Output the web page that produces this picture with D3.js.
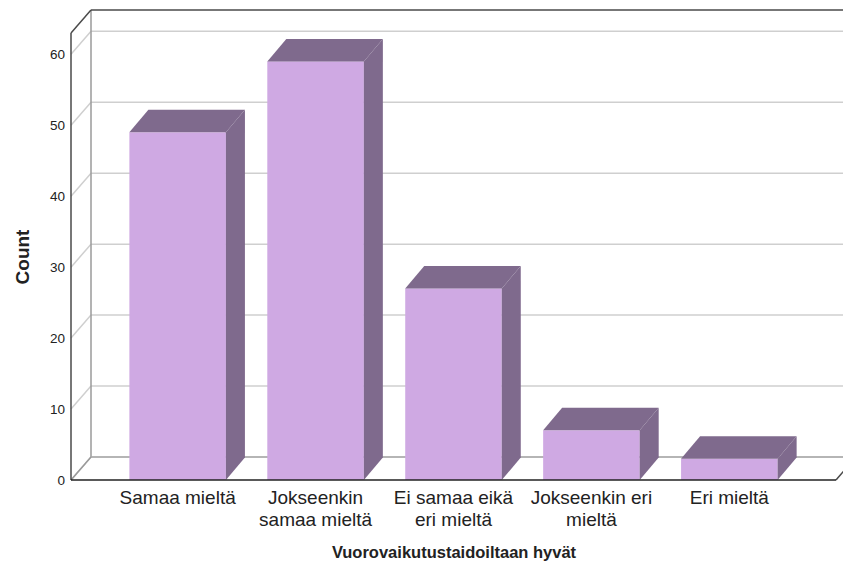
<!DOCTYPE html>
<html>
<head>
<meta charset="utf-8">
<script src="https://cdn.jsdelivr.net/npm/d3@7/dist/d3.min.js"></script>
<style>
  html, body { margin: 0; padding: 0; background: #fff; }
  svg { display: block; }
  text { font-family: Arial, "Liberation Sans", sans-serif; fill: #222; }
</style>
</head>
<body>
<svg id="chart" width="843" height="571"></svg>
<script>
// Response categories and counts
const categories = [
  ["Samaa mieltä"],
  ["Jokseenkin", "samaa mieltä"],
  ["Ei samaa eikä", "eri mieltä"],
  ["Jokseenkin eri", "mieltä"],
  ["Eri mieltä"]
];
const counts = [49, 59, 27, 7, 3];
const yTicks = [0, 10, 20, 30, 40, 50, 60];
const yMax = 63;
const xTitle = "Vuorovaikutustaidoiltaan hyvät";
const yTitle = "Count";

const W = 843, H = 571;
const svg = d3.select("#chart");

// front plane of the 3D box
const frontLeft = 71, frontBottom = 480, frontTop = 33, frontRight = 836;
// depth offset from the front plane to the back wall
const depthX = 20, depthY = -23;
// depth of each bar
const barDX = 19, barDY = -22.5;

const y = d3.scaleLinear().domain([0, yMax]).range([frontBottom, frontTop]);
const x = d3.scaleBand()
  .domain(d3.range(categories.length))
  .range([88, 819])
  .paddingInner(0.3)
  .paddingOuter(0.3);

const faceColor = "#cfa9e3";
const shadeColor = "#7f6a8d";
const gridColor = "#cfcfcf";
const axisColor = "#4a4a4a";

const g = svg.append("g");

// back wall gridlines
g.selectAll("line.grid").data(yTicks).join("line")
  .attr("x1", frontLeft + depthX).attr("x2", W)
  .attr("y1", d => y(d) + depthY).attr("y2", d => y(d) + depthY)
  .attr("stroke", gridColor).attr("stroke-width", 1.5);

// diagonal tick connectors on the side wall
g.selectAll("line.tick").data(yTicks).join("line")
  .attr("x1", frontLeft).attr("x2", frontLeft + depthX)
  .attr("y1", d => y(d)).attr("y2", d => y(d) + depthY)
  .attr("stroke", gridColor).attr("stroke-width", 1.5);

// back wall left edge
g.append("line")
  .attr("x1", frontLeft + depthX).attr("x2", frontLeft + depthX)
  .attr("y1", y(0) + depthY).attr("y2", y(yMax) + depthY)
  .attr("stroke", "#9a9a9a").attr("stroke-width", 1.5);

// back wall top edge
g.append("line")
  .attr("x1", frontLeft + depthX).attr("x2", W)
  .attr("y1", y(yMax) + depthY).attr("y2", y(yMax) + depthY)
  .attr("stroke", axisColor).attr("stroke-width", 1.5);

// top-left diagonal
g.append("line")
  .attr("x1", frontLeft).attr("x2", frontLeft + depthX)
  .attr("y1", y(yMax)).attr("y2", y(yMax) + depthY)
  .attr("stroke", axisColor).attr("stroke-width", 1.5);

// floor: back edge and side edges
g.append("line")
  .attr("x1", frontLeft + depthX).attr("x2", W)
  .attr("y1", y(0) + depthY).attr("y2", y(0) + depthY)
  .attr("stroke", "#a8a8a8").attr("stroke-width", 1.5);
g.append("line")
  .attr("x1", frontLeft).attr("x2", frontLeft + depthX)
  .attr("y1", y(0)).attr("y2", y(0) + depthY)
  .attr("stroke", "#9a9a9a").attr("stroke-width", 1.5);
g.append("line")
  .attr("x1", frontRight).attr("x2", frontRight + depthX)
  .attr("y1", y(0)).attr("y2", y(0) + depthY)
  .attr("stroke", axisColor).attr("stroke-width", 1.5);

// bars
const bars = g.selectAll("g.bar").data(counts).join("g").attr("class", "bar");
bars.append("rect")
  .attr("x", (d, i) => x(i))
  .attr("y", d => y(d))
  .attr("width", x.bandwidth())
  .attr("height", d => y(0) - y(d))
  .attr("fill", faceColor);
bars.append("path")
  .attr("d", (d, i) => {
    const x0 = x(i), x1 = x(i) + x.bandwidth(), yt = y(d);
    return `M${x0},${yt}L${x1},${yt}L${x1 + barDX},${yt + barDY}L${x0 + barDX},${yt + barDY}Z`;
  })
  .attr("fill", shadeColor);
bars.append("path")
  .attr("d", (d, i) => {
    const x1 = x(i) + x.bandwidth(), yt = y(d), yb = y(0);
    return `M${x1},${yt}L${x1 + barDX},${yt + barDY}L${x1 + barDX},${yb + barDY}L${x1},${yb}Z`;
  })
  .attr("fill", shadeColor);

// front axis line and floor front edge
g.append("line")
  .attr("x1", frontLeft).attr("x2", frontLeft)
  .attr("y1", y(0)).attr("y2", y(yMax))
  .attr("stroke", axisColor).attr("stroke-width", 1.5);
g.append("line")
  .attr("x1", frontLeft).attr("x2", frontRight)
  .attr("y1", y(0)).attr("y2", y(0))
  .attr("stroke", "#222").attr("stroke-width", 1.5);

// y tick labels
g.selectAll("text.ytick").data(yTicks).join("text")
  .attr("x", 65).attr("y", d => y(d))
  .attr("dy", "0.36em")
  .attr("text-anchor", "end")
  .attr("font-size", 13.5)
  .text(d => d);

// category labels
const labels = g.selectAll("text.cat").data(categories).join("text")
  .attr("text-anchor", "middle")
  .attr("font-size", 19)
  .attr("x", (d, i) => x(i) + x.bandwidth() / 2)
  .attr("y", 504);
labels.selectAll("tspan").data(d => d).join("tspan")
  .attr("x", function () { return d3.select(this.parentNode).attr("x"); })
  .attr("dy", (d, i) => i === 0 ? 0 : 22)
  .text(d => d);

// axis titles
svg.append("text")
  .attr("x", 454).attr("y", 558)
  .attr("text-anchor", "middle")
  .attr("font-size", 16.5).attr("font-weight", "bold")
  .text(xTitle);
svg.append("text")
  .attr("transform", "translate(29,257) rotate(-90)")
  .attr("text-anchor", "middle")
  .attr("font-size", 19).attr("font-weight", "bold")
  .text(yTitle);
</script>
</body>
</html>
